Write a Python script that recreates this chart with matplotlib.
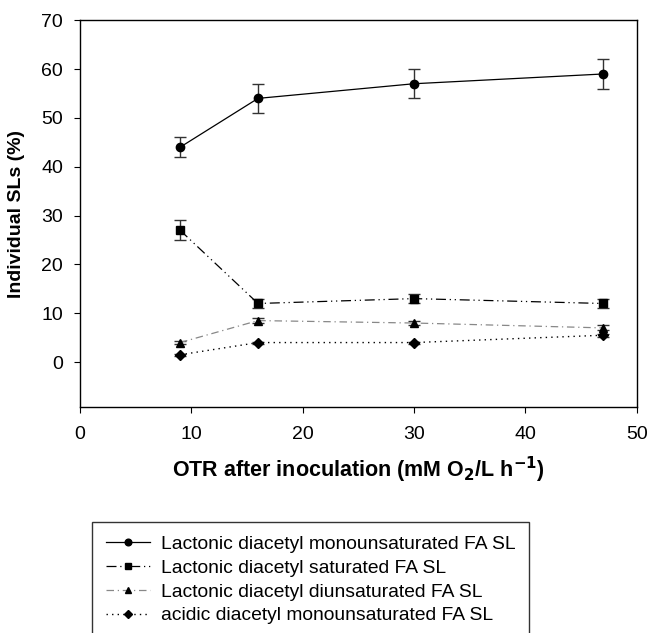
import matplotlib
matplotlib.use("Agg")
import matplotlib.pyplot as plt
from matplotlib.lines import Line2D
import numpy as np

plt.rcParams['font.family'] = ['Liberation Sans', 'DejaVu Sans']

otr = [9, 16, 30, 47]

mono = [44, 54, 57, 59]
mono_err = [2, 3, 3, 3]
sat = [27, 12, 13, 12]
sat_err = [2, 1, 1, 1]
diun = [4, 8.5, 8, 7]
diun_err = [0.3, 0.5, 0.5, 0.5]
acid = [1.5, 4, 4, 5.5]
acid_err = [0.2, 0.2, 0.2, 0.3]

labels = ['Lactonic diacetyl monounsaturated FA SL',
          'Lactonic diacetyl saturated FA SL',
          'Lactonic diacetyl diunsaturated FA SL',
          'acidic diacetyl monounsaturated FA SL']

fig = plt.figure(figsize=(6.49, 6.33), dpi=100)
ax = fig.add_axes([0.123, 0.357, 0.858, 0.611])

ekw = dict(capsize=4, elinewidth=1, capthick=1, ecolor='#333333')
styles = [
    dict(color='black', lw=0.9, ls='-', marker='o', ms=6),
    dict(color='black', lw=0.9, ls=(0, (8, 3, 1, 3, 1, 3)), marker='s', ms=5.5),
    dict(color='#888888', lw=0.9, ls=(0, (6, 3, 1, 3)), marker='^', ms=5.5,
         mfc='black', mec='black'),
    dict(color='black', lw=1.0, ls=(0, (1, 3)), marker='D', ms=5),
]
series = [(mono, mono_err), (sat, sat_err), (diun, diun_err), (acid, acid_err)]

for (vals, err), st in zip(series, styles):
    ax.errorbar(otr, vals, yerr=err, **st, **ekw)

ax.set_xlim(0, 50)
ax.set_ylim(-9.2, 70)
ax.set_xticks(np.arange(0, 51, 10))
ax.set_yticks(np.arange(0, 71, 10))
ax.tick_params(direction='out', length=4, labelsize=14, pad=8)
ax.tick_params(axis='x', pad=10)
for s in ax.spines.values():
    s.set_linewidth(1.0)

ax.set_xlabel('OTR after inoculation (mM O$_\\mathbf{2}$/L h$^\\mathbf{-1}$)',
              fontsize=15.5, fontweight='bold', labelpad=8)
ax.set_ylabel('Individual SLs (%)', fontsize=14, fontweight='bold', labelpad=12)

handles = [Line2D([], [], **{**st, 'ms': st['ms'] * 0.8}) for st in styles]
leg = fig.legend(handles=handles, labels=labels, loc='upper left',
                 bbox_to_anchor=(0.142, 0.175), fontsize=13.9, frameon=True,
                 fancybox=False, edgecolor='black', handlelength=2.3,
                 handletextpad=0.57, labelspacing=0.32, borderpad=0.7,
                 borderaxespad=0)
leg.get_frame().set_linewidth(1.0)

fig.savefig('out.png', dpi=100)
